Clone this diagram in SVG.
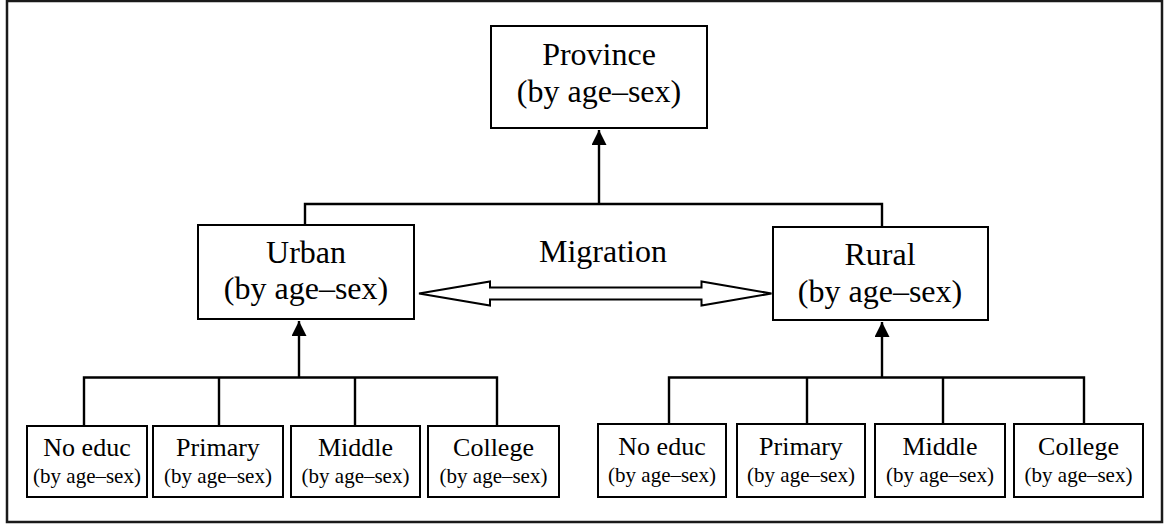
<svg xmlns="http://www.w3.org/2000/svg" width="1165" height="524" viewBox="0 0 1165 524">
<style>
.box{fill:#fff;stroke:#000;stroke-width:2}
.ln{fill:none;stroke:#000;stroke-width:2.4}
</style>
<defs>
<marker id="ah" markerWidth="16" markerHeight="16" refX="15" refY="7.5" orient="auto" markerUnits="userSpaceOnUse">
<path d="M0,0 L15,7.5 L0,15 Z" fill="#000"/>
</marker>
</defs>
<rect x="0" y="0" width="1165" height="524" fill="#fff"/>
<rect x="7" y="1" width="1155" height="521" fill="none" stroke="#1a1a1a" stroke-width="2.5"/>
<g id="connectors">
<path class="ln" d="M305,226 V204 H882 V227"/>
<path class="ln" d="M599,204 V130" marker-end="url(#ah)"/>
<path class="ln" d="M84,426 V377.5 H497 V426 M219,377.5 V426 M355,377.5 V426"/>
<path class="ln" d="M299,377.5 V321" marker-end="url(#ah)"/>
<path class="ln" d="M669,424 V377.5 H1084 V424 M807,377.5 V424 M943,377.5 V424"/>
<path class="ln" d="M882,377.5 V322" marker-end="url(#ah)"/>
<path d="M419,293.5 L490,281.5 V287.5 H701.5 V281.5 L771.5,293.5 L701.5,305.5 V299.5 H490 V305.5 Z" fill="#fff" stroke="#000" stroke-width="2"/>
</g>
<g font-family="Liberation Serif" text-anchor="middle" fill="#000">
<g id="province" font-size="32">
<rect class="box" x="491" y="26" width="216" height="102"/>
<text x="599" y="65">Province</text>
<text x="599" y="102">(by age–sex)</text>
</g>
<g id="urban" font-size="32">
<rect class="box" x="198" y="225" width="216" height="94"/>
<text x="306" y="263">Urban</text>
<text x="306" y="299">(by age–sex)</text>
</g>
<g id="rural" font-size="32">
<rect class="box" x="773" y="227" width="215" height="93"/>
<text x="880" y="265">Rural</text>
<text x="880" y="302">(by age–sex)</text>
</g>
<g id="migration-label" font-size="32">
<text x="603" y="262">Migration</text>
</g>
<g id="u-noeduc">
<rect class="box" x="27" y="426" width="120" height="71"/>
<text x="87" y="456" font-size="26">No educ</text>
<text x="87" y="483" font-size="21">(by age–sex)</text>
</g>
<g id="u-primary">
<rect class="box" x="153" y="426" width="130" height="71"/>
<text x="218" y="456" font-size="26">Primary</text>
<text x="218" y="483" font-size="21">(by age–sex)</text>
</g>
<g id="u-middle">
<rect class="box" x="291" y="426" width="129" height="71"/>
<text x="355.5" y="456" font-size="26">Middle</text>
<text x="355.5" y="483" font-size="21">(by age–sex)</text>
</g>
<g id="u-college">
<rect class="box" x="428" y="426" width="131" height="71"/>
<text x="493.5" y="456" font-size="26">College</text>
<text x="493.5" y="483" font-size="21">(by age–sex)</text>
</g>
<g id="r-noeduc">
<rect class="box" x="598" y="424" width="128" height="73"/>
<text x="662" y="455" font-size="26">No educ</text>
<text x="662" y="482" font-size="21">(by age–sex)</text>
</g>
<g id="r-primary">
<rect class="box" x="737" y="424" width="128" height="73"/>
<text x="801" y="455" font-size="26">Primary</text>
<text x="801" y="482" font-size="21">(by age–sex)</text>
</g>
<g id="r-middle">
<rect class="box" x="875" y="424" width="130" height="73"/>
<text x="940" y="455" font-size="26">Middle</text>
<text x="940" y="482" font-size="21">(by age–sex)</text>
</g>
<g id="r-college">
<rect class="box" x="1014" y="424" width="129" height="73"/>
<text x="1078.5" y="455" font-size="26">College</text>
<text x="1078.5" y="482" font-size="21">(by age–sex)</text>
</g>
</g>
</svg>
